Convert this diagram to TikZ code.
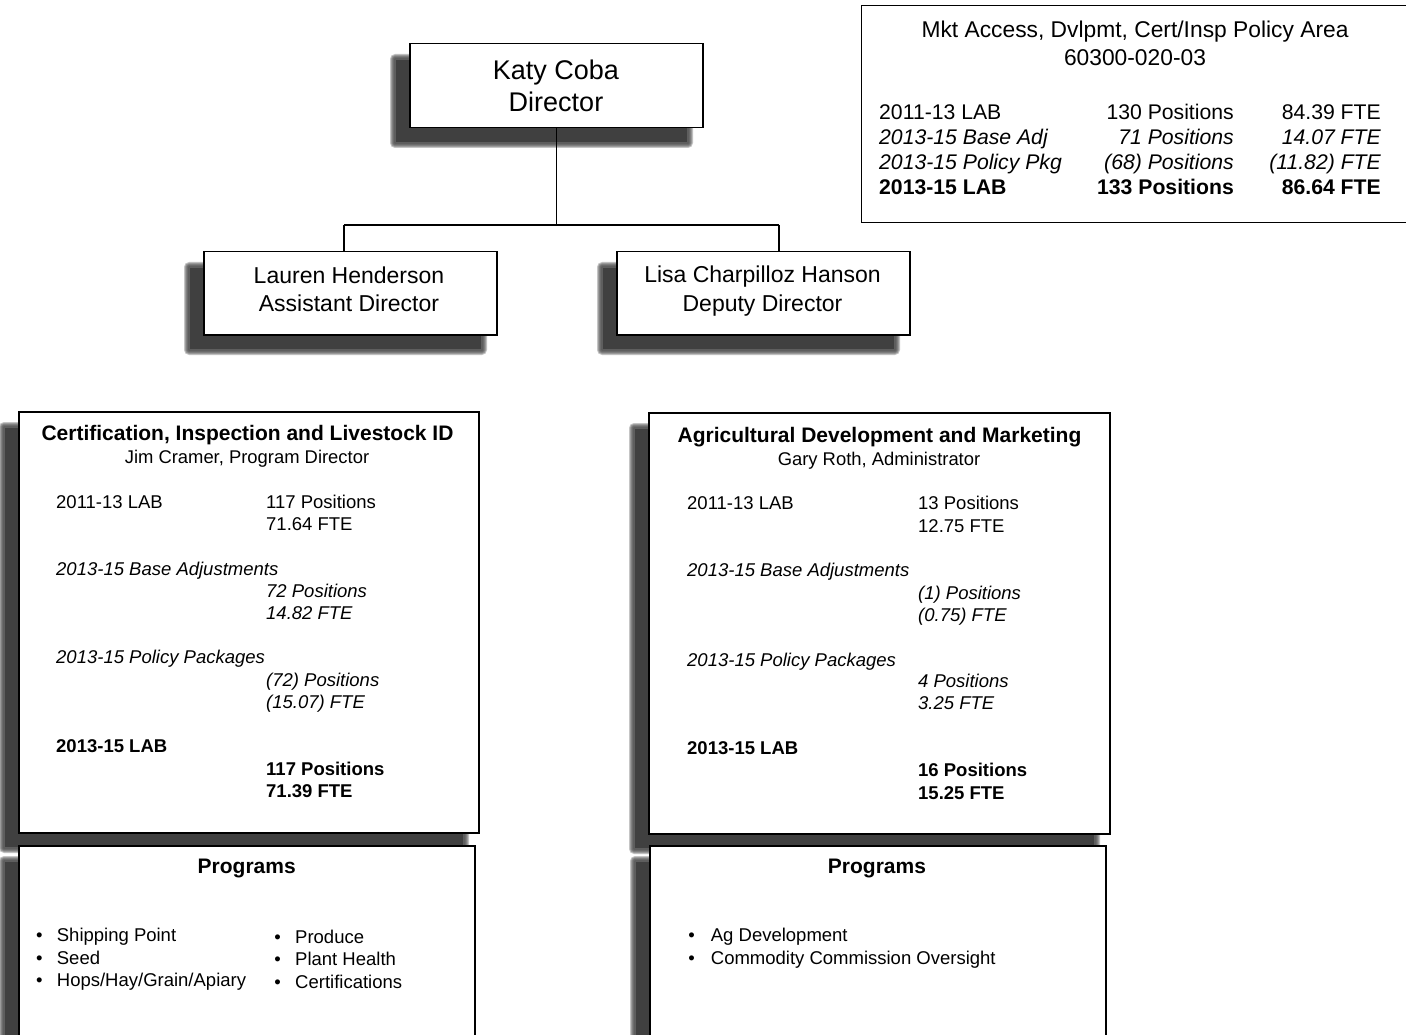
\documentclass[tikz,border=0pt]{standalone}
\usepackage{fontspec}
\setmainfont{Liberation Sans}
\newcommand\fsz[1]{\fontsize{#1}{#1}\selectfont}
\definecolor{shadowc}{HTML}{404040}
\newcommand\dshadow[4]{%
  \foreach \k in {5,4,3,2,1}{%
    \fill[shadowc, opacity=0.3, rounded corners=\k pt] (#1-14-\k, #2+16-\k) rectangle (#3-14+\k, #4+16+\k);}
  \fill[shadowc] (#1-13, #2+17) rectangle (#3-15, #4+15);
}
\tikzset{
  box/.style={draw=black, line width=1.5pt, fill=white, inner sep=0pt, anchor=north west},
  dirtxt/.style={font=\fsz{27}, anchor=base, inner sep=0pt},
  mgrtxt/.style={font=\fsz{23}, anchor=base, inner sep=0pt},
  patitle/.style={font=\fsz{22.8}, anchor=base, inner sep=0pt},
  parow/.style={font=\fsz{21.2}, inner sep=0pt},
  parowi/.style={font=\itshape\fsz{21.2}, inner sep=0pt},
  parowb/.style={font=\bfseries\fsz{21.2}, inner sep=0pt},
  ttl/.style={font=\bfseries\fsz{21}, anchor=base, inner sep=0pt},
  subttl/.style={font=\fsz{18.4}, anchor=base, inner sep=0pt},
  row/.style={font=\fsz{18.5}, anchor=base west, inner sep=0pt},
  rowi/.style={font=\itshape\fsz{18.5}, anchor=base west, inner sep=0pt},
  rowb/.style={font=\bfseries\fsz{18.5}, anchor=base west, inner sep=0pt},
  bul/.style={font=\fsz{18.5}, anchor=base, inner sep=0pt},
  conn/.style={draw=black, line width=1.5pt},
}
\begin{document}
\begin{tikzpicture}[x=1pt, y=-1pt]
\useasboundingbox (0,0) rectangle (1406,1035);
\clip (0,0) rectangle (1406,1035);
\fill[white] (0,0) rectangle (1406,1035);

% shadows
\dshadow{409}{43}{702}{127}
\dshadow{203}{251}{496}{334}
\dshadow{616}{251}{909}{334}
\dshadow{18}{411}{478}{832}
\dshadow{648}{412}{1109}{833}
\dshadow{18}{845}{474}{1095}
\dshadow{649}{845}{1105}{1095}

% organisation boxes and connectors
\node[box, minimum width=293pt, minimum height=84pt] (dir) at (409,43) {};
\node[box, minimum width=293pt, minimum height=83pt] (lau) at (203,251) {};
\node[box, minimum width=293pt, minimum height=83pt] (lis) at (616,251) {};
\coordinate (jm) at (dir.south |- 0,225);
\coordinate (jl) at (344,225);
\coordinate (jr) at (779,225);
\draw[conn] (dir.south) -- (jm);
\draw[conn] (jl) -- (jr);
\draw[conn] (jl) -- (jl |- lau.north);
\draw[conn] (jr) -- (jr |- lis.north);

% top-right policy area box
\node[box, line width=1.2pt, minimum width=600pt, minimum height=217pt] (pa) at (861,5) {};

% big boxes
\node[box, minimum width=460pt, minimum height=421pt] (cil) at (18,411) {};
\node[box, minimum width=461pt, minimum height=421pt] (adm) at (648,412) {};
\node[box, minimum width=456pt, minimum height=250pt] (pl) at (18,845) {};
\node[box, minimum width=456pt, minimum height=250pt] (pr) at (649,845) {};

% director texts
\node[dirtxt] (dir1) at (556,79.5) {Katy Coba};
\node[dirtxt] (dir2) at (556,111.5) {Director};
\node[mgrtxt] (lau1) at (349,283.3) {Lauren Henderson};
\node[mgrtxt] (lau2) at (349,311.5) {Assistant Director};
\node[mgrtxt] (lis1) at (762.5,283) {Lisa Charpilloz Hanson};
\node[mgrtxt] (lis2) at (762.5,311) {Deputy Director};

% policy area texts
\node[patitle] (pat1) at (1135,37.5) {Mkt Access, Dvlpmt, Cert/Insp Policy Area};
\node[patitle] (pat2) at (1135,65.5) {60300-020-03};
\node[parow, anchor=base west] (pa11) at (879,119.5) {2011-13 LAB};
\node[parow, anchor=base east] (pa12) at (1234,119.5) {130 Positions};
\node[parow, anchor=base east] (pa13) at (1381,119.5) {84.39 FTE};
\node[parowi, anchor=base west] (pa21) at (879,144.5) {2013-15 Base Adj};
\node[parowi, anchor=base east] (pa22) at (1234,144.5) {71 Positions};
\node[parowi, anchor=base east] (pa23) at (1381,144.5) {14.07 FTE};
\node[parowi, anchor=base west] (pa31) at (879,169.5) {2013-15 Policy Pkg};
\node[parowi, anchor=base east] (pa32) at (1234,169.5) {(68) Positions};
\node[parowi, anchor=base east] (pa33) at (1381,169.5) {(11.82) FTE};
\node[parowb, anchor=base west] (pa41) at (879,194.5) {2013-15 LAB};
\node[parowb, anchor=base east] (pa42) at (1234,194.5) {133 Positions};
\node[parowb, anchor=base east] (pa43) at (1381,194.5) {86.64 FTE};

% left big box texts
\node[ttl] (cilt) at (247.5,440.5) {Certification, Inspection and Livestock ID};
\node[subttl] (cils) at (247,463.5) {Jim Cramer, Program Director};
\node[row] (c1) at (56,508.5) {2011-13 LAB};
\node[row] (c2) at (266,508.5) {117 Positions};
\node[row] (c3) at (266,530.5) {71.64 FTE};
\node[rowi] (c4) at (56,575) {2013-15 Base Adjustments};
\node[rowi] (c5) at (266,597.3) {72 Positions};
\node[rowi] (c6) at (266,619.3) {14.82 FTE};
\node[rowi] (c7) at (56,663.5) {2013-15 Policy Packages};
\node[rowi] (c8) at (266,686) {(72) Positions};
\node[rowi] (c9) at (266,708.3) {(15.07) FTE};
\node[rowb] (c10) at (56,752.7) {2013-15 LAB};
\node[rowb] (c11) at (266,775.7) {117 Positions};
\node[rowb] (c12) at (266,797.5) {71.39 FTE};

% right big box texts
\node[ttl] (admt) at (879.5,442.5) {Agricultural Development and Marketing};
\node[subttl] (adms) at (879,465) {Gary Roth, Administrator};
\node[row] (a1) at (687,509.3) {2011-13 LAB};
\node[row] (a2) at (918,509.3) {13 Positions};
\node[row] (a3) at (918,532) {12.75 FTE};
\node[rowi] (a4) at (687,576) {2013-15 Base Adjustments};
\node[rowi] (a5) at (918,599.3) {(1) Positions};
\node[rowi] (a6) at (918,621.5) {(0.75) FTE};
\node[rowi] (a7) at (687,666) {2013-15 Policy Packages};
\node[rowi] (a8) at (918,687.5) {4 Positions};
\node[rowi] (a9) at (918,709.5) {3.25 FTE};
\node[rowb] (a10) at (687,754.3) {2013-15 LAB};
\node[rowb] (a11) at (918,776.7) {16 Positions};
\node[rowb] (a12) at (918,799.3) {15.25 FTE};

% programs left
\node[ttl] (plt) at (246.7,873.3) {Programs};
\node[bul] (plb1) at (39.3,941.7) {•};
\node[row] (pl1) at (56.7,941.7) {Shipping Point};
\node[bul] (plb2) at (39.3,964) {•};
\node[row] (pl2) at (56.7,964) {Seed};
\node[bul] (plb3) at (39.3,986.7) {•};
\node[row] (pl3) at (56.7,986.7) {Hops/Hay/Grain/Apiary};
\node[bul] (plb4) at (277.7,943) {•};
\node[row] (pl4) at (295,943) {Produce};
\node[bul] (plb5) at (277.7,965.7) {•};
\node[row] (pl5) at (295,965.7) {Plant Health};
\node[bul] (plb6) at (277.7,988.3) {•};
\node[row] (pl6) at (295,988.3) {Certifications};

% programs right
\node[ttl] (prt) at (877,873.3) {Programs};
\node[bul] (prb1) at (691.7,941.7) {•};
\node[row] (pr1) at (710.7,941.7) {Ag Development};
\node[bul] (prb2) at (691.7,964) {•};
\node[row] (pr2) at (710.7,964) {Commodity Commission Oversight};
\end{tikzpicture}
\end{document}
